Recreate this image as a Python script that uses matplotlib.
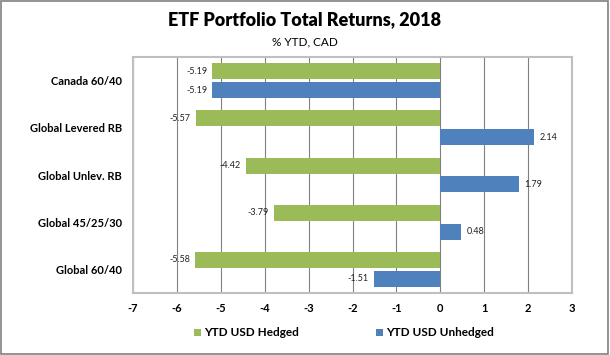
import numpy as np
import matplotlib.pyplot as plt
from matplotlib.patches import Rectangle

# Data (top to bottom)
categories = ["Canada 60/40", "Global Levered RB", "Global Unlev. RB", "Global 45/25/30", "Global 60/40"]
hedged = [-5.19, -5.57, -4.42, -3.79, -5.58]
unhedged = [-5.19, 2.14, 1.79, 0.48, -1.51]
xticks = list(range(-7, 4))

green = "#9bbb59"
blue = "#4f81bd"
plt.rcParams['font.family'] = ['Lato', 'DejaVu Sans']

fig = plt.figure(figsize=(6.1, 3.55), dpi=100)
ax = fig.add_axes([133 / 610, 1 - 293 / 355, (572 - 133) / 610, (293 - 57) / 355])

n = len(categories)
pos = np.arange(n)[::-1].astype(float)
h = 0.34
off = 0.2
ax.barh(pos + off, hedged, height=h, color=green, label="YTD USD Hedged", zorder=3)
ax.barh(pos - off, unhedged, height=h, color=blue, label="YTD USD Unhedged", zorder=3)

# value labels at the bar ends
for series, o in ((hedged, off), (unhedged, -off)):
    for p, v in zip(pos, series):
        if v < 0:
            ax.text(v - 0.12, p + o, f"{v:.2f}", ha="right", va="center", fontsize=6.5, color="#222222")
        else:
            ax.text(v + 0.12, p + o, f"{v:.2f}", ha="left", va="center", fontsize=6.5, color="#222222")

ax.set_xlim(-7, 3)
ax.set_ylim(-0.5, n - 0.5)
ax.set_xticks(xticks)
ax.set_xticklabels([str(t) for t in xticks], fontsize=8, fontweight="bold")
ax.set_yticks(pos)
ax.set_yticklabels(categories, fontsize=8, fontweight="bold")
ax.tick_params(axis="x", length=0, pad=7)
ax.tick_params(axis="y", length=0, pad=8)
ax.grid(axis="x", color="#808080", linewidth=0.8, zorder=0)
for s in ax.spines.values():
    s.set_color("#bfbfbf")
    s.set_linewidth(1.5)

fig.text(0.5, 1 - 20 / 355, "ETF Portfolio Total Returns, 2018", ha="center", va="center",
         fontsize=13, fontweight="heavy")
fig.text(0.5, 1 - 42 / 355, "% YTD, CAD", ha="center", va="center", fontsize=8.5)

handles, labels = ax.get_legend_handles_labels()
fig.legend(handles, labels, loc="center left", bbox_to_anchor=(183 / 610, 1 - 333 / 355), ncol=2,
           frameon=False, prop={"weight": "bold", "size": 8.5},
           handlelength=0.6, handleheight=0.6, handletextpad=0.3, columnspacing=6.5)

fig.patches.append(Rectangle((0.002, 0.003), 0.995, 0.994, transform=fig.transFigure,
                             fill=False, edgecolor="#808080", linewidth=1.2))

fig.savefig("out.png", dpi=100)
